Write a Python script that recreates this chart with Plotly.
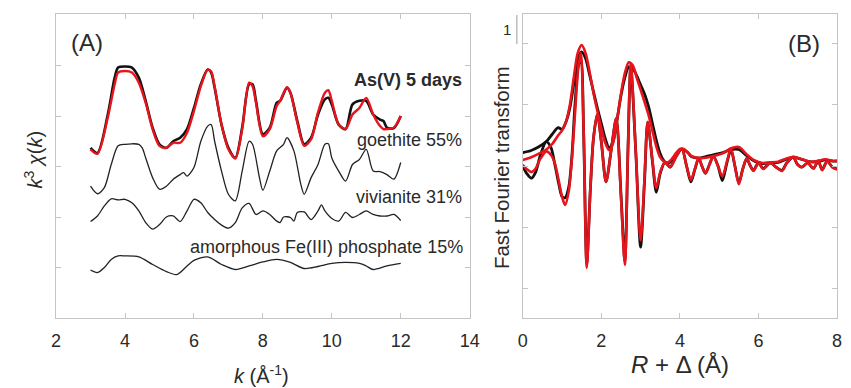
import plotly.graph_objects as go

W, H = 851, 388

# ---------------- Panel A data: k^3 chi(k) (offset stacked) ----------------
k_top = [3.0, 3.2, 3.5, 3.7, 3.8, 4.0, 4.2, 4.4, 4.6, 4.8, 5.0, 5.2, 5.4, 5.6, 5.8, 6.0, 6.2, 6.4, 6.5, 6.6,
         6.8, 7.0, 7.2, 7.4, 7.6, 7.7, 7.8, 8.0, 8.2, 8.4, 8.5, 8.7, 8.8, 9.0, 9.2, 9.4, 9.6, 9.8, 9.9, 10.0,
         10.2, 10.4, 10.6, 10.8, 11.0, 11.2, 11.4, 11.5, 11.6, 11.8, 12.0]
as5_data = [3.37, 3.27, 4.03, 4.76, 4.96, 4.98, 4.96, 4.76, 4.30, 3.77, 3.44, 3.37, 3.50, 3.57, 3.74, 4.16, 4.63, 4.92, 4.86, 4.56,
            3.83, 3.37, 3.17, 3.77, 4.63, 4.63, 4.30, 3.64, 3.77, 4.26, 4.30, 4.56, 4.46, 3.90, 3.44, 3.57, 4.03, 4.33, 4.36, 4.23,
            3.83, 3.74, 4.23, 4.30, 4.30, 4.03, 3.93, 3.90, 3.77, 3.76, 4.00]
as5_fit = [3.34, 3.25, 3.97, 4.63, 4.86, 4.89, 4.86, 4.66, 4.26, 3.74, 3.41, 3.37, 3.47, 3.47, 3.67, 4.10, 4.59, 4.92, 4.88, 4.59,
           3.83, 3.34, 3.16, 3.74, 4.66, 4.59, 4.26, 3.60, 3.74, 4.20, 4.30, 4.57, 4.46, 3.87, 3.41, 3.54, 4.07, 4.46, 4.51, 4.30,
           3.83, 3.74, 4.03, 4.16, 4.36, 4.03, 3.80, 3.74, 3.74, 3.77, 4.00]

k_goe = [3.0, 3.2, 3.4, 3.6, 3.8, 4.0, 4.2, 4.4, 4.5, 4.6, 4.8, 5.0, 5.2, 5.4, 5.6, 5.7, 5.8, 6.0, 6.2, 6.4,
         6.5, 6.6, 6.8, 7.0, 7.2, 7.4, 7.6, 7.7, 7.9, 8.0, 8.2, 8.4, 8.6, 8.7, 8.9, 9.1, 9.2, 9.4, 9.6, 9.8,
         9.9, 10.0, 10.2, 10.4, 10.6, 10.8, 11.0, 11.2, 11.4, 11.6, 11.8, 12.0]
goethite = [2.61, 2.46, 2.58, 3.04, 3.41, 3.44, 3.45, 3.44, 3.37, 3.17, 2.78, 2.55, 2.61, 2.75, 2.84, 2.88, 2.81, 2.98, 3.50, 3.80,
            3.83, 3.50, 2.91, 2.45, 2.32, 2.91, 3.50, 3.44, 2.78, 2.53, 2.91, 3.31, 3.44, 3.57, 3.31, 2.65, 2.45, 2.78, 3.04, 3.44,
            3.45, 3.17, 2.91, 2.71, 3.04, 3.14, 3.34, 2.91, 2.90, 2.84, 2.75, 3.08]

k_viv = [3.0, 3.2, 3.4, 3.6, 3.8, 4.0, 4.2, 4.4, 4.6, 4.8, 5.0, 5.2, 5.4, 5.6, 5.8, 6.0, 6.2, 6.4, 6.6, 6.8,
         7.0, 7.2, 7.4, 7.6, 7.8, 8.0, 8.2, 8.4, 8.5, 8.6, 8.8, 8.9, 9.0, 9.2, 9.4, 9.6, 9.7, 9.8, 10.0, 10.2,
         10.4, 10.6, 10.8, 11.0, 11.2, 11.4, 11.6, 11.8, 12.0]
vivianite = [1.91, 2.02, 2.22, 2.36, 2.34, 2.35, 2.28, 2.12, 1.89, 1.76, 1.85, 2.00, 2.02, 1.91, 2.12, 2.35, 2.28, 2.09, 1.95, 1.84,
             1.78, 1.89, 2.18, 2.27, 2.05, 2.12, 2.05, 1.92, 1.89, 2.00, 1.99, 1.92, 2.09, 2.10, 1.95, 2.12, 2.24, 2.12, 1.97, 1.92,
             2.09, 1.99, 2.05, 2.12, 2.05, 2.02, 2.02, 2.05, 1.93]

k_amo = [3.0, 3.2, 3.4, 3.6, 3.8, 4.0, 4.4, 4.8, 5.2, 5.5, 5.8, 6.0, 6.4, 6.8, 7.2, 7.6, 8.0, 8.4, 8.8, 9.2,
         9.6, 10.0, 10.4, 10.8, 11.0, 11.2, 11.6, 12.0]
amorphous = [0.95, 0.90, 1.00, 1.16, 1.23, 1.23, 1.21, 1.06, 0.92, 0.86, 1.03, 1.14, 1.21, 1.06, 0.96, 1.03, 1.11, 1.16, 1.10, 0.98,
             1.02, 1.08, 1.10, 1.08, 1.03, 0.96, 1.03, 1.08]

labels_A = ["As(V) 5 days", "goethite 55%", "vivianite 31%", "amorphous Fe(III) phosphate 15%"]
xticks_A = [2, 4, 6, 8, 10, 12, 14]
yticks_A = [1, 2, 3, 4, 5]

# ---------------- Panel B data: Fourier transform ----------------
r_mag = [0.0, 0.2, 0.4, 0.6, 0.75, 0.9, 1.0, 1.1, 1.2, 1.3, 1.4, 1.5, 1.6, 1.7, 1.8, 1.9, 2.0, 2.1, 2.2, 2.3,
         2.4, 2.5, 2.6, 2.7, 2.8, 2.9, 3.0, 3.1, 3.2, 3.3, 3.4, 3.5, 3.6, 3.7, 3.8, 3.9, 4.0, 4.1, 4.2, 4.3,
         4.5, 4.7, 4.9, 5.1, 5.3, 5.5, 5.7, 5.9, 6.1, 6.3, 6.5, 6.7, 6.9, 7.1, 7.3, 7.5, 7.7, 7.9, 8.0]
mag_data = [0.22, 0.25, 0.31, 0.40, 0.52, 0.63, 0.60, 0.72, 0.95, 1.35, 1.75, 1.87, 1.76, 1.50, 1.22, 0.95, 0.70, 0.45, 0.30, 0.40,
            0.75, 1.15, 1.45, 1.62, 1.60, 1.48, 1.33, 1.18, 0.98, 0.70, 0.42, 0.20, 0.08, 0.04, 0.10, 0.18, 0.26, 0.27, 0.22, 0.15,
            0.13, 0.16, 0.19, 0.22, 0.27, 0.27, 0.17, 0.08, 0.04, 0.05, 0.06, 0.11, 0.14, 0.11, 0.07, 0.07, 0.10, 0.08, 0.08]
mag_fit = [0.10, 0.14, 0.20, 0.27, 0.36, 0.50, 0.58, 0.72, 1.00, 1.45, 1.85, 1.98, 1.85, 1.55, 1.20, 0.90, 0.62, 0.38, 0.26, 0.38,
           0.75, 1.18, 1.52, 1.70, 1.65, 1.45, 1.25, 1.05, 0.84, 0.58, 0.32, 0.14, 0.07, 0.06, 0.12, 0.21, 0.28, 0.28, 0.22, 0.16,
           0.13, 0.14, 0.17, 0.21, 0.29, 0.31, 0.19, 0.09, 0.05, 0.06, 0.07, 0.12, 0.15, 0.11, 0.07, 0.08, 0.11, 0.08, 0.09]

r_re = [0.0, 0.1, 0.22, 0.33, 0.45, 0.6, 0.72, 0.82, 0.92, 1.0, 1.08, 1.17, 1.25, 1.33, 1.42, 1.48, 1.55, 1.63, 1.72, 1.8,
        1.9, 2.0, 2.12, 2.25, 2.38, 2.5, 2.6, 2.68, 2.75, 2.88, 3.0, 3.1, 3.18, 3.3, 3.4, 3.5, 3.62, 3.75, 3.9, 4.05,
        4.17, 4.28, 4.38, 4.48, 4.56, 4.65, 4.75, 4.85, 4.97, 5.08, 5.2, 5.3, 5.4, 5.5, 5.6, 5.7, 5.78, 5.87, 6.0, 6.12,
        6.3, 6.45, 6.6, 6.72, 6.88, 7.0, 7.1, 7.25, 7.4, 7.52, 7.62, 7.75, 7.88, 8.0]
re_data = [0.0, -0.12, -0.20, -0.10, 0.18, 0.40, 0.30, 0.02, -0.30, -0.50, -0.52, -0.35, 0.15, 1.00, 1.65, 1.72, 0.55, -1.60, -0.40, 0.45,
           0.85, 0.40, -0.26, 0.25, 0.78, -0.45, -1.55, 0.30, 1.62, 0.20, -1.33, -0.25, 0.72, 0.08, -0.43, -0.12, 0.06, -0.02, 0.15, 0.28,
           0.0, -0.26, -0.06, 0.13, 0.0, -0.12, 0.02, 0.16, 0.0, -0.24, 0.06, 0.27, 0.0, -0.28, -0.05, 0.12, 0.02, -0.07, 0.05, -0.04,
           0.05, -0.02, -0.07, 0.05, 0.14, 0.02, -0.02, 0.05, -0.04, 0.08, -0.06, 0.08, -0.02, -0.05]
re_fit = [0.02, -0.05, -0.10, -0.04, 0.12, 0.24, 0.18, 0.04, -0.25, -0.50, -0.64, -0.42, 0.10, 0.85, 1.65, 1.85, 0.60, -1.67, -0.40, 0.45,
          0.85, 0.40, -0.26, 0.25, 0.78, -0.50, -1.62, 0.30, 1.68, 0.20, -1.22, -0.20, 0.72, 0.10, -0.36, -0.10, 0.06, -0.02, 0.15, 0.28,
          0.0, -0.23, -0.05, 0.13, 0.0, -0.12, 0.02, 0.16, 0.0, -0.17, 0.08, 0.29, 0.0, -0.30, -0.05, 0.13, 0.02, -0.08, 0.05, -0.05,
          0.05, -0.02, -0.08, 0.05, 0.15, 0.02, -0.02, 0.05, -0.04, 0.09, -0.07, 0.08, -0.02, -0.06]

xticks_B = [0, 2, 4, 6, 8]
yticks_B = [-2, -1, 0, 1, 2]

# ---------------- figure ----------------
FONT = "Liberation Sans, Arial, sans-serif"
GRID = "#c4c4c4"
TXT = "#2a2a2a"
RED = "#e8141b"


def px(x):
    return x / W


def py(y):
    return 1 - y / H


fig = go.Figure()


def line(x, y, color, width, xa, ya):
    fig.add_trace(go.Scatter(x=x, y=y, mode="lines", xaxis=xa, yaxis=ya,
                             line=dict(color=color, width=width, shape="spline", smoothing=0.8),
                             hoverinfo="skip", showlegend=False))


# Panel A
line(k_top, as5_data, "#111111", 2.6, "x", "y")
line(k_top, as5_fit, RED, 2.4, "x", "y")
line(k_goe, goethite, "#222222", 1.3, "x", "y")
line(k_viv, vivianite, "#222222", 1.3, "x", "y")
line(k_amo, amorphous, "#222222", 1.3, "x", "y")

# Panel B
line(r_mag, mag_data, "#111111", 2.8, "x2", "y2")
line(r_re, re_data, "#111111", 2.8, "x2", "y2")
line(r_mag, mag_fit, RED, 2.6, "x2", "y2")
line(r_re, re_fit, RED, 2.6, "x2", "y2")

axis_common = dict(showline=True, linecolor=GRID, linewidth=1, mirror="ticks", ticks="inside",
                   ticklen=5, tickcolor=GRID, tickwidth=1, showgrid=False, zeroline=False,
                   tickfont=dict(family=FONT, size=18, color=TXT))

fig.update_layout(
    width=W, height=H, margin=dict(l=0, r=0, t=0, b=0),
    paper_bgcolor="white", plot_bgcolor="white",
    xaxis=dict(domain=[px(52), px(473)], range=[2, 14], tickvals=xticks_A, anchor="y",
               ticklabelstandoff=6, **axis_common),
    yaxis=dict(domain=[py(318), py(14)], range=[0, 6.02], tickvals=yticks_A, showticklabels=False,
               anchor="x", **axis_common),
    xaxis2=dict(domain=[px(527), px(847)], range=[0, 8], tickvals=xticks_B, anchor="y2",
                ticklabelstandoff=6, **axis_common),
    yaxis2=dict(domain=[py(318), py(14)], range=[-2.49, 2.49], tickvals=yticks_B, showticklabels=False,
                anchor="x2", **axis_common),
)

ann = []


def text(x, y, s, size, xanchor="center", angle=0, bold=False):
    ann.append(dict(x=px(x), y=py(y), xref="paper", yref="paper", text=(f"<b>{s}</b>" if bold else s),
                    showarrow=False, xanchor=xanchor, yanchor="middle", textangle=angle,
                    font=dict(family=FONT, size=size, color=TXT)))


text(83, 42, "(A)", 24)
text(813, 43, "(B)", 24)
text(467, 80, labels_A[0], 18, xanchor="right", bold=True)
text(467, 140, labels_A[1], 18, xanchor="right")
text(467, 197, labels_A[2], 18, xanchor="right")
text(468, 247, labels_A[3], 18, xanchor="right")
text(28, 160, "<i>k</i><sup>3</sup> <i>χ</i>(<i>k</i>)", 20, angle=-90)
text(261, 374, "<i>k</i> (Å<sup>-1</sup>)", 20)
text(505, 168, "Fast Fourier transform", 20.5, angle=-90)
text(687, 364, "<i>R</i> + Δ (Å)", 24)
text(511, 30, "1", 15)
fig.update_layout(annotations=ann)

fig.add_shape(type="line", xref="paper", yref="paper", x0=px(521), x1=px(521), y0=py(15), y1=py(44),
              line=dict(color="#bdbdbd", width=1.5))

fig.write_html("out.html", config={"displayModeBar": False},
               post_script="document.body.style.margin='0';")
